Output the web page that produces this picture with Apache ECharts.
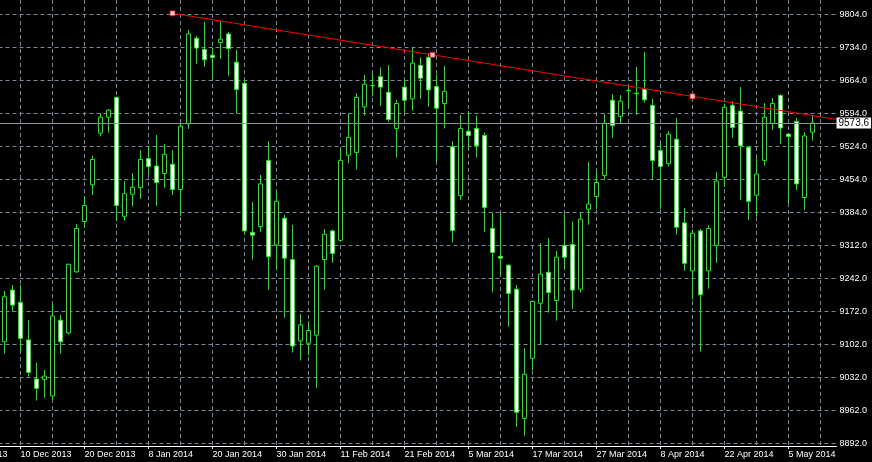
<!DOCTYPE html>
<html>
<head>
<meta charset="utf-8">
<title>DAX daily</title>
<script src="https://cdn.jsdelivr.net/npm/echarts@6/dist/echarts.min.js"></script>
<style>
html, body { margin: 0; padding: 0; background: #000; }
#chart { width: 872px; height: 462px; }
</style>
</head>
<body>
<div id="chart"></div>
<script>
'use strict';

// trading days shown on the time axis
var nov2013 = [28, 29];
var dec2013 = [2, 3, 4, 5, 6, 9, 10, 11, 12, 13, 16, 17, 18, 19, 20, 23, 27, 30];
var jan2014 = [2, 3, 6, 7, 8, 9, 10, 13, 14, 15, 16, 17, 20, 21, 22, 23, 24, 27, 28, 29, 30, 31];
var feb2014 = [3, 4, 5, 6, 7, 10, 11, 12, 13, 14, 17, 18, 19, 20, 21, 24, 25, 26, 27, 28];
var mar2014 = [3, 4, 5, 6, 7, 10, 11, 12, 13, 14, 17, 18, 19, 20, 21, 24, 25, 26, 27, 28, 31];
var apr2014 = [1, 2, 3, 4, 7, 8, 9, 10, 11, 14, 15, 16, 17, 22, 23, 24, 25, 28, 29, 30];
var may2014 = [2, 5, 6, 7, 8, 9, 12, 13];

// daily bars from 6 Dec 2013 to 8 May 2014
var firstBarDate = '6 Dec 2013';
var opens = [
    9108, 9218, 9192, 9112, 9029, 9028, 8993, 9154, 9127, 9257,
    9364, 9442, 9552, 9586, 9628, 9375, 9422, 9436, 9498, 9482,
    9466, 9486, 9432, 9572, 9754, 9730, 9718, 9745, 9763, 9703,
    9658, 9341, 9353, 9494, 9314, 9371, 9283, 9110, 9105, 9122,
    9283, 9344, 9324, 9505, 9511, 9608, 9653, 9672, 9639, 9562,
    9650, 9625, 9696, 9713, 9651, 9615, 9523, 9419, 9556, 9562,
    9547, 9349, 9290, 9271, 9220, 8945, 9073, 9190, 9256, 9196,
    9313, 9315, 9220, 9390, 9417, 9462, 9622, 9588, 9642, 9637,
    9645, 9611, 9515, 9487, 9539, 9361, 9259, 9344, 9259, 9313,
    9458, 9611, 9599, 9522, 9420, 9494, 9573, 9632, 9550, 9577,
    9415, 9554
];
var highs = [
    9216, 9229, 9229, 9154, 9064, 9048, 9190, 9165, 9274, 9359,
    9418, 9504, 9594, 9603, 9630, 9450, 9467, 9516, 9523, 9548,
    9529, 9516, 9573, 9772, 9759, 9789, 9734, 9791, 9767, 9729,
    9667, 9406, 9463, 9535, 9430, 9378, 9357, 9167, 9152, 9271,
    9348, 9347, 9520, 9594, 9637, 9676, 9679, 9692, 9697, 9623,
    9667, 9733, 9713, 9722, 9676, 9695, 9535, 9591, 9599, 9589,
    9553, 9383, 9380, 9273, 9229, 9094, 9196, 9318, 9329, 9301,
    9380, 9364, 9384, 9491, 9471, 9593, 9635, 9633, 9654, 9693,
    9725, 9625, 9532, 9557, 9584, 9393, 9347, 9348, 9356, 9469,
    9615, 9620, 9650, 9525, 9501, 9616, 9627, 9635, 9551, 9585,
    9554, 9590
];
var lows = [
    9083, 9172, 9085, 9034, 8983, 8989, 8984, 9083, 9123, 9255,
    9351, 9420, 9545, 9553, 9365, 9366, 9396, 9412, 9463, 9397,
    9436, 9420, 9376, 9561, 9699, 9693, 9667, 9710, 9674, 9594,
    9339, 9283, 9342, 9219, 9262, 9159, 9085, 9068, 9079, 9010,
    9219, 9276, 9322, 9488, 9475, 9589, 9630, 9610, 9576, 9500,
    9594, 9600, 9625, 9608, 9491, 9562, 9319, 9410, 9519, 9500,
    9342, 9213, 9249, 9140, 8927, 8908, 9047, 9103, 9170, 9153,
    9262, 9178, 9213, 9357, 9390, 9452, 9542, 9573, 9606, 9591,
    9617, 9452, 9390, 9481, 9336, 9259, 9198, 9087, 9221, 9276,
    9437, 9542, 9410, 9367, 9374, 9483, 9559, 9529, 9403, 9431,
    9388, 9536
];
var closes = [
    9204, 9186, 9115, 9043, 9009, 9035, 9163, 9108, 9273, 9349,
    9398, 9496, 9586, 9601, 9398, 9423, 9437, 9496, 9481, 9447,
    9507, 9432, 9567, 9763, 9733, 9708, 9713, 9752, 9732, 9645,
    9344, 9335, 9444, 9289, 9407, 9286, 9099, 9144, 9132, 9269,
    9337, 9296, 9494, 9543, 9628, 9656, 9653, 9650, 9581, 9615,
    9622, 9701, 9669, 9644, 9605, 9641, 9345, 9562, 9547, 9525,
    9394, 9298, 9286, 9211, 8958, 9039, 9194, 9252, 9213, 9288,
    9288, 9218, 9369, 9401, 9447, 9573, 9568, 9620, 9643, 9636,
    9623, 9494, 9481, 9550, 9352, 9275, 9339, 9208, 9349, 9450,
    9607, 9564, 9525, 9407, 9465, 9586, 9615, 9563, 9545, 9444,
    9546, 9573.6
];

// price scale labels on the right
var priceLabels = ['8892.0', '8962.0', '9032.0', '9102.0', '9172.0', '9242.0', '9312.0',
    '9384.0', '9454.0', '9524.0', '9594.0', '9664.0', '9734.0', '9804.0'];

// trend line anchors (date, price)
var trendFrom = ['13 Jan 2014', 9807];
var trendTo = ['14 Apr 2014', 9630.3];

var MONTHS = { 10: 'Nov', 11: 'Dec', 0: 'Jan', 1: 'Feb', 2: 'Mar', 3: 'Apr', 4: 'May' };

function buildDays() {
    var list = [];
    [[nov2013, 10, 2013], [dec2013, 11, 2013], [jan2014, 0, 2014], [feb2014, 1, 2014],
        [mar2014, 2, 2014], [apr2014, 3, 2014], [may2014, 4, 2014]].forEach(function (m) {
        m[0].forEach(function (d) {
            list.push(d + ' ' + MONTHS[m[1]] + ' ' + m[2]);
        });
    });
    return list;
}

var categories = buildDays();
var BAR = 8;
var firstIdx = categories.indexOf(firstBarDate);
var nCat = categories.length;

var candles = categories.map(function (c, i) {
    var k = i - firstIdx;
    if (k < 0 || k >= opens.length) { return ['-', '-', '-', '-']; }
    return [opens[k], closes[k], lows[k], highs[k]];
});

var pMin = parseFloat(priceLabels[0]),
    pMax = parseFloat(priceLabels[priceLabels.length - 1]),
    pStep = (pMax - pMin) / (priceLabels.length - 1);
var tickValues = priceLabels.map(function (t, i) { return pMin + i * pStep; });

var ia = categories.indexOf(trendFrom[0]),
    ib = categories.indexOf(trendTo[0]);
var slope = (trendTo[1] - trendFrom[1]) / (ib - ia);
var trendEnd = [nCat - 1, trendTo[1] + slope * (nCat - 1 - ib)];
var trendMid = [(ia + ib) / 2, (trendFrom[1] + trendTo[1]) / 2];

var lastClose = closes[closes.length - 1];
var font = 'Liberation Sans, Arial, sans-serif';
var gridColor = '#778899';

var chart = echarts.init(document.getElementById('chart'));
chart.setOption({
    backgroundColor: '#000',
    animation: false,
    grid: {
        left: 4.5 - firstIdx * BAR,
        top: 0,
        width: (nCat - 1) * BAR,
        height: 446,
        containLabel: false,
        outerBoundsMode: 'none'
    },
    xAxis: [{
        type: 'category',
        data: categories,
        boundaryGap: false,
        axisLine: { lineStyle: { color: '#fff', width: 1 } },
        axisTick: {
            interval: function (i) { return i % 8 === 0; },
            length: 3,
            lineStyle: { color: '#fff' }
        },
        axisLabel: {
            interval: function (i) { return i % 8 === 0; },
            align: 'left',
            color: '#fff',
            fontSize: 9,
            fontFamily: font,
            margin: 4
        },
        splitLine: {
            show: true,
            interval: function (i) { return i % 4 === 0; },
            lineStyle: { color: gridColor, type: [4, 3], width: 1 }
        }
    }, {
        type: 'value',
        show: false,
        min: 0,
        max: nCat - 1
    }],
    yAxis: {
        type: 'value',
        position: 'right',
        offset: -2,
        min: 8886.3,
        max: 9835.3,
        axisLine: { show: true, lineStyle: { color: '#fff', width: 1 } },
        axisTick: { show: true, length: 3, lineStyle: { color: '#fff' }, customValues: tickValues },
        axisLabel: {
            color: '#fff',
            fontSize: 9,
            fontFamily: font,
            margin: 5,
            customValues: tickValues,
            formatter: function (v) {
                return priceLabels[Math.round((v - pMin) / pStep)];
            }
        },
        splitLine: { show: true, lineStyle: { color: gridColor, type: [4, 3], width: 1 } }
    },
    series: [{
        type: 'candlestick',
        data: candles,
        barWidth: 4,
        silent: true,
        itemStyle: {
            color: '#000',
            color0: '#fff',
            borderColor: '#00ff00',
            borderColor0: '#00ff00',
            borderColorDoji: '#00ff00',
            borderWidth: 1
        },
        markLine: {
            silent: true,
            symbol: ['none', 'none'],
            data: [{ yAxis: lastClose }],
            lineStyle: { color: '#8a929c', type: 'solid', width: 1 },
            label: {
                position: 'end',
                distance: 0,
                formatter: lastClose.toFixed(1),
                color: '#000',
                backgroundColor: '#fff',
                padding: [1, 2, 0, 2],
                fontSize: 10,
                fontFamily: font
            }
        }
    }, {
        type: 'line',
        xAxisIndex: 1,
        data: [[ia, trendFrom[1]], trendEnd],
        symbol: 'none',
        silent: true,
        lineStyle: { color: '#ff0000', width: 1 }
    }, {
        type: 'scatter',
        xAxisIndex: 1,
        data: [[ia, trendFrom[1]], trendMid, [ib, trendTo[1]]],
        symbol: 'rect',
        symbolSize: 5,
        silent: true,
        itemStyle: { color: '#fff', borderColor: '#ff0000', borderWidth: 1 },
        z: 5
    }]
});
</script>
</body>
</html>
